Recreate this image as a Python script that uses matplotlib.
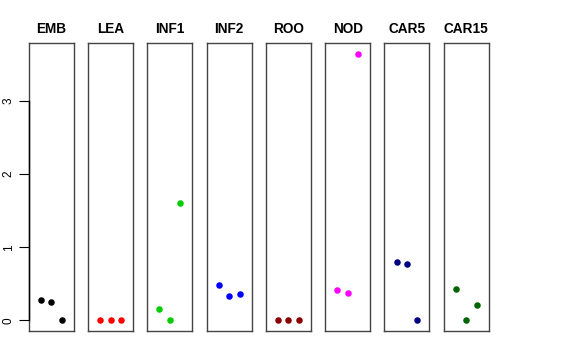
import numpy as np
import matplotlib.pyplot as plt

plt.rcParams['font.family'] = ['Liberation Sans', 'DejaVu Sans']

groups = ['EMB', 'LEA', 'INF1', 'INF2', 'ROO', 'NOD', 'CAR5', 'CAR15']
colors = ['#000000', '#FF0000', '#00CD00', '#0000FF', '#8B0000', '#FF00FF', '#000080', '#006400']
emb = [0.28, 0.25, 0.0]
lea = [0.0, 0.0, 0.0]
inf1 = [0.15, 0.0, 1.61]
inf2 = [0.48, 0.33, 0.365]
roo = [0.0, 0.0, 0.0]
nod = [0.42, 0.38, 3.65]
car5 = [0.795, 0.775, 0.0]
car15 = [0.43, 0.0, 0.21]
values = [emb, lea, inf1, inf2, roo, nod, car5, car15]
reps = [1, 2, 3]

W, H = 576, 360
fig = plt.figure(figsize=(W / 100, H / 100), dpi=100)

ymax = max(max(v) for v in values)
ylim = (0 - 0.04 * ymax, ymax + 0.04 * ymax)

for i, (g, c, v) in enumerate(zip(groups, colors, values)):
    left = 28.7 + i * 59.3
    ax = fig.add_axes([left / W, (H - 331) / H, 45 / W, 288 / H])
    ax.scatter(reps, v, s=22, color=c, linewidths=0, zorder=3)
    ax.set_xlim(-0.16, 4.16)
    ax.set_ylim(*ylim)
    ax.set_xticks([])
    for s in ax.spines.values():
        s.set_color('#444444')
        s.set_linewidth(1.0)
    ax.set_title(g, fontsize=9.8, fontweight='bold', pad=7)
    if i == 0:
        ax.set_yticks([0, 1, 2, 3])
        ax.tick_params(axis='y', length=7, width=0.8, labelsize=8.5, pad=3)
        for lab in ax.get_yticklabels():
            lab.set_rotation(90)
            lab.set_va('center')
        ax.plot([-0.16, -0.16], [0, 3], color='black', lw=1.0, clip_on=False, zorder=4)
    else:
        ax.set_yticks([])

fig.savefig('out.png', dpi=100)
